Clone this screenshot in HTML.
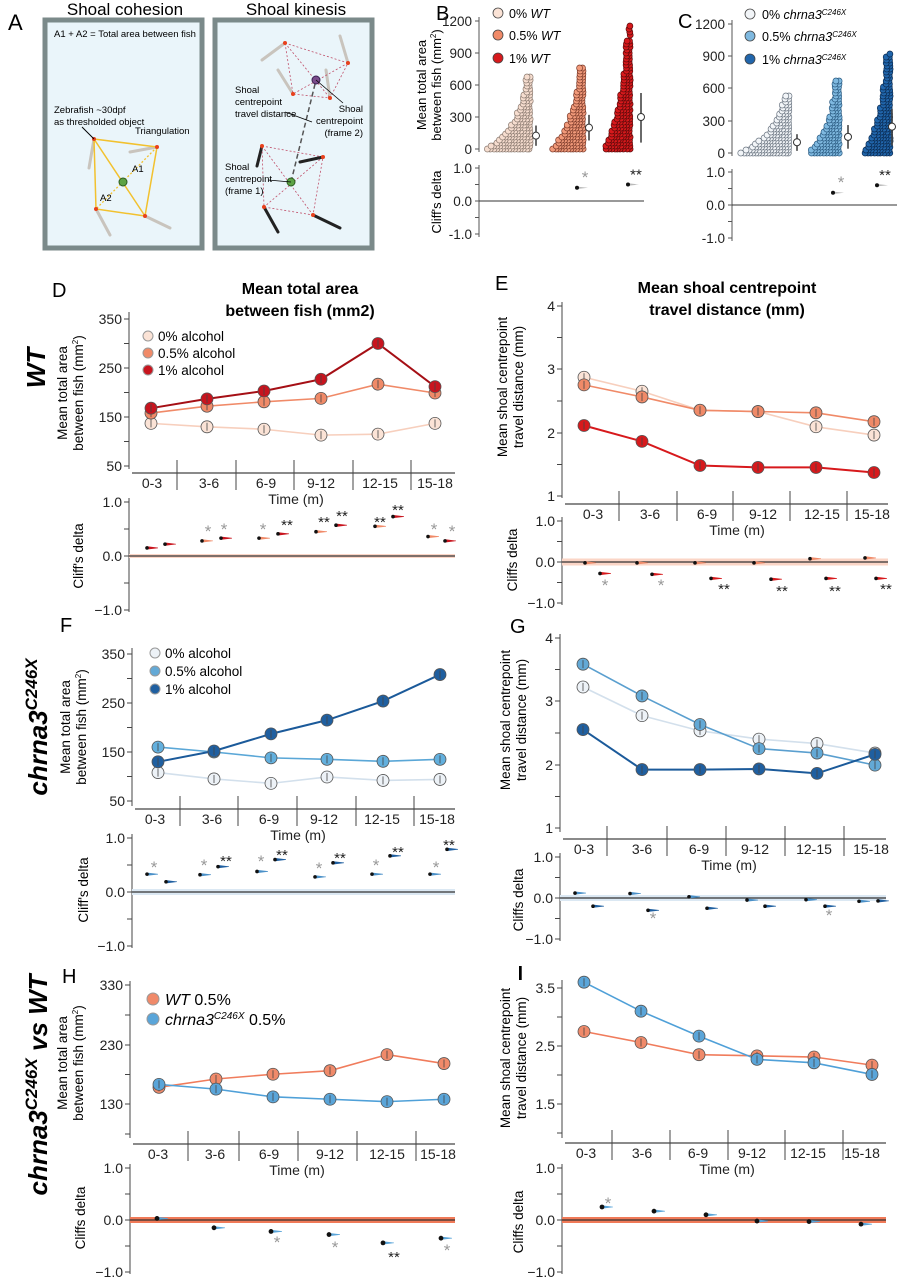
<!DOCTYPE html>
<html><head><meta charset="utf-8"><style>
html,body{margin:0;padding:0;background:#fff}
svg{display:block;font-family:"Liberation Sans",sans-serif}
</style></head><body>
<svg id="s" width="898" height="1280" viewBox="0 0 898 1280" xmlns="http://www.w3.org/2000/svg">
<rect width="898" height="1280" fill="#fff"/>
<!-- Panel A -->
<text x="8" y="30" font-size="22">A</text>
<text x="125" y="15" font-size="17" text-anchor="middle">Shoal cohesion</text>
<text x="296" y="15" font-size="17" text-anchor="middle">Shoal kinesis</text>
<rect x="45" y="20" width="157" height="228" fill="#eaf5fa" stroke="#7b8a8a" stroke-width="5"/>
<rect x="215" y="20" width="157" height="228" fill="#eaf5fa" stroke="#7b8a8a" stroke-width="5"/>
<text x="54" y="37" font-size="9.5">A1 + A2 = Total area between fish</text>
<g stroke="#c9c4bd" stroke-width="3" stroke-linecap="round">
<line x1="94" y1="139" x2="89" y2="168"/><line x1="157" y1="147" x2="130" y2="152"/><line x1="96" y1="209" x2="110" y2="235"/><line x1="145" y1="216" x2="170" y2="228"/>
<line x1="285" y1="43" x2="262" y2="60"/><line x1="348" y1="63" x2="340" y2="36"/><line x1="293" y1="94" x2="278" y2="70"/><line x1="330" y1="98" x2="326" y2="70"/>
</g>
<g stroke="#222" stroke-width="3" stroke-linecap="round">
<line x1="262" y1="146" x2="257" y2="166"/><line x1="323" y1="157" x2="300" y2="162"/><line x1="264" y1="207" x2="278" y2="232"/><line x1="313" y1="215" x2="340" y2="228"/>
</g>
<polygon points="94,139 157,147 145,216 96,209" fill="none" stroke="#f2c12e" stroke-width="1.5"/>
<line x1="94" y1="139" x2="145" y2="216" stroke="#f2c12e" stroke-width="1.5"/>
<line x1="157" y1="147" x2="96" y2="209" stroke="#f2c12e" stroke-width="1.3" stroke-dasharray="2,2"/>
<circle cx="123" cy="182" r="4" fill="#5da345" stroke="#2c5c20"/>
<g fill="#e8401c"><circle cx="94" cy="139" r="2"/><circle cx="157" cy="147" r="2"/><circle cx="96" cy="209" r="2"/><circle cx="145" cy="216" r="2"/></g>
<line x1="82" y1="127" x2="94" y2="139" stroke="#000"/>
<text x="54" y="113" font-size="9.5">Zebrafish ~30dpf</text>
<text x="54" y="125" font-size="9.5">as thresholded object</text>
<text x="135" y="134" font-size="9.5">Triangulation</text>
<text x="132" y="172" font-size="9.5">A1</text>
<text x="100" y="201" font-size="9.5">A2</text>
<g stroke="#c0506a" stroke-width="0.8" stroke-dasharray="2,2" fill="none">
<polygon points="285,43 348,63 330,98 293,94"/><line x1="285" y1="43" x2="330" y2="98"/><line x1="348" y1="63" x2="293" y2="94"/>
<polygon points="262,146 323,157 313,215 264,207"/><line x1="262" y1="146" x2="313" y2="215"/><line x1="323" y1="157" x2="264" y2="207"/>
</g>
<line x1="291" y1="182" x2="316" y2="80" stroke="#555" stroke-width="1.5" stroke-dasharray="5,3"/>
<circle cx="316" cy="80" r="4" fill="#7a4c8c" stroke="#3a2050"/>
<circle cx="291" cy="182" r="4" fill="#5da345" stroke="#2c5c20"/>
<g fill="#e8401c"><circle cx="285" cy="43" r="2"/><circle cx="348" cy="63" r="2"/><circle cx="293" cy="94" r="2"/><circle cx="330" cy="98" r="2"/><circle cx="262" cy="146" r="2"/><circle cx="323" cy="157" r="2"/><circle cx="264" cy="207" r="2"/><circle cx="313" cy="215" r="2"/></g>
<g stroke="#000" stroke-width="0.8"><line x1="285" y1="112" x2="312" y2="122"/><line x1="316" y1="80" x2="343" y2="103"/><line x1="268" y1="180" x2="291" y2="182"/></g>
<g font-size="9.5">
<text x="235" y="93">Shoal</text><text x="235" y="105">centrepoint</text><text x="235" y="117">travel distance</text>
<text x="363" y="112" text-anchor="end">Shoal</text><text x="363" y="124" text-anchor="end">centrepoint</text><text x="363" y="136" text-anchor="end">(frame 2)</text>
<text x="225" y="170">Shoal</text><text x="225" y="182">centrepoint</text><text x="225" y="194">(frame 1)</text>
</g>
<!-- B / C -->
<text x="436" y="20" font-size="20">B</text>
<text x="678" y="28" font-size="20">C</text>
<text transform="translate(426,85) rotate(-90)" font-size="13" text-anchor="middle">Mean total area</text>
<text transform="translate(441,85) rotate(-90)" font-size="13" text-anchor="middle">between fish (mm<tspan dy="-5" font-size="8">2</tspan><tspan dy="5">)</tspan></text>
<text transform="translate(441,202) rotate(-90)" font-size="13" text-anchor="middle">Cliff's delta</text>
<g font-size="12.5">
<text x="509" y="18">0% <tspan font-style="italic">WT</tspan></text>
<text x="509" y="40">0.5% <tspan font-style="italic">WT</tspan></text>
<text x="509" y="63">1% <tspan font-style="italic">WT</tspan></text>
<text x="762" y="19">0% <tspan font-style="italic">chrna3<tspan dy="-4" font-size="8">C246X</tspan></tspan></text>
<text x="762" y="41">0.5% <tspan font-style="italic">chrna3<tspan dy="-4" font-size="8">C246X</tspan></tspan></text>
<text x="762" y="64">1% <tspan font-style="italic">chrna3<tspan dy="-4" font-size="8">C246X</tspan></tspan></text>
</g>
<!-- Titles -->
<text x="300" y="294" font-size="16" font-weight="bold" text-anchor="middle">Mean total area</text>
<text x="300" y="316" font-size="16" font-weight="bold" text-anchor="middle">between fish (mm2)</text>
<text x="727" y="293" font-size="16" font-weight="bold" text-anchor="middle">Mean shoal centrepoint</text>
<text x="727" y="315" font-size="16" font-weight="bold" text-anchor="middle">travel distance (mm)</text>
<g font-size="20">
<text x="52" y="297">D</text><text x="495" y="290">E</text><text x="60" y="632">F</text><text x="510" y="633">G</text><text x="62" y="983">H</text><text x="518" y="980">I</text>
</g>
<g font-size="26" font-weight="bold" font-style="italic">
<text transform="translate(45,368) rotate(-90)" text-anchor="middle">WT</text>
<text transform="translate(47,727) rotate(-90)" text-anchor="middle">chrna3<tspan dy="-10" font-size="17">C246X</tspan></text>
<text transform="translate(47,1085) rotate(-90)" text-anchor="middle">chrna3<tspan dy="-10" font-size="17">C246X</tspan><tspan dy="10"> vs WT</tspan></text>
</g>
<!-- y labels -->
<g font-size="13.5" text-anchor="middle">
<text transform="translate(67,393) rotate(-90)">Mean total area</text>
<text transform="translate(83,393) rotate(-90)">between fish (mm<tspan dy="-5" font-size="8">2</tspan><tspan dy="5">)</tspan></text>
<text transform="translate(83,556) rotate(-90)">Cliff's delta</text>
<text transform="translate(507,387) rotate(-90)">Mean shoal centrepoint</text>
<text transform="translate(523,387) rotate(-90)">travel distance (mm)</text>
<text transform="translate(517,560) rotate(-90)">Cliffs delta</text>
<text transform="translate(70,727) rotate(-90)">Mean total area</text>
<text transform="translate(86,727) rotate(-90)">between fish (mm<tspan dy="-5" font-size="8">2</tspan><tspan dy="5">)</tspan></text>
<text transform="translate(88,890) rotate(-90)">Cliff's delta</text>
<text transform="translate(510,720) rotate(-90)">Mean shoal centrepoint</text>
<text transform="translate(526,720) rotate(-90)">travel distance (mm)</text>
<text transform="translate(523,900) rotate(-90)">Cliffs delta</text>
<text transform="translate(67,1063) rotate(-90)">Mean total area</text>
<text transform="translate(83,1063) rotate(-90)">between fish (mm<tspan dy="-5" font-size="8">2</tspan><tspan dy="5">)</tspan></text>
<text transform="translate(85,1218) rotate(-90)">Cliffs delta</text>
<text transform="translate(510,1058) rotate(-90)">Mean shoal centrepoint</text>
<text transform="translate(526,1058) rotate(-90)">travel distance (mm)</text>
<text transform="translate(523,1222) rotate(-90)">Cliffs delta</text>
</g>
<!-- legends D,F,H -->
<g font-size="13.5">
<circle cx="148" cy="336" r="5" fill="#fbe3d6" stroke="#999"/><text x="158" y="341">0% alcohol</text>
<circle cx="148" cy="353" r="5" fill="#f08a68" stroke="#999"/><text x="158" y="358">0.5% alcohol</text>
<circle cx="148" cy="370" r="5" fill="#c8141e" stroke="#999"/><text x="158" y="375">1% alcohol</text>
<circle cx="155" cy="653" r="5" fill="#edf2f7" stroke="#999"/><text x="165" y="658">0% alcohol</text>
<circle cx="155" cy="671" r="5" fill="#63a9d6" stroke="#999"/><text x="165" y="676">0.5% alcohol</text>
<circle cx="155" cy="689" r="5" fill="#1f5fa0" stroke="#999"/><text x="165" y="694">1% alcohol</text>
</g>
<g font-size="16">
<circle cx="153" cy="999" r="6" fill="#f08a6a" stroke="#999"/><text x="165" y="1005"><tspan font-style="italic">WT</tspan> 0.5%</text>
<circle cx="153" cy="1019" r="6" fill="#5aa5d9" stroke="#999"/><text x="165" y="1025"><tspan font-style="italic">chrna3<tspan dy="-6" font-size="10">C246X</tspan></tspan><tspan dy="6"> 0.5%</tspan></text>
</g>
<g id="gen"></g>
</svg>
<script>
var S=[];function A(s){S.push(s)}
function L(x1,y1,x2,y2,c,w,extra){A('<line x1="'+x1+'" y1="'+y1+'" x2="'+x2+'" y2="'+y2+'" stroke="'+(c||'#333')+'" stroke-width="'+(w||1)+'" '+(extra||'')+'/>')}
function T(x,y,s,sz,anchor,fill){A('<text x="'+x+'" y="'+y+'" font-size="'+(sz||14)+'" text-anchor="'+(anchor||'start')+'" fill="'+(fill||'#222')+'">'+s+'</text>')}
function star(x,y,s,gray){T(x,y,s,s.length>1?15:17,'middle',gray?'#999':'#222')}
var XL=['0-3','3-6','6-9','9-12','12-15','15-18'];
function panel(p){
 L(p.ax,p.yTop,p.ax,p.yBot,'#444',1);
 p.yt.forEach(function(t){L(p.ax-5,t[1],p.ax,t[1],'#444',1);if(t[0]!=='')T(p.ax-7,t[1]+5,t[0],14,'end');});
 L(p.ax+3,p.xl,p.xEnd,p.xl,'#444',1.2);
 p.seps.forEach(function(x){L(x,p.xl-13,x,p.xl+17,'#444',1)});
 p.lx.forEach(function(x,i){T(x,p.xl+15,XL[i],14,'middle')});
 T(p.timeX,p.xl+31,'Time (m)',14,'middle');
 p.series.forEach(function(s){
  var pts=s.v.map(function(v,i){return [p.xs[i],p.fy(v)]});
  A('<polyline points="'+pts.map(function(q){return q.join(',')}).join(' ')+'" fill="none" stroke="'+s.line+'" stroke-width="'+(s.lw||1.6)+'"/>');
  pts.forEach(function(q){A('<circle cx="'+q[0]+'" cy="'+q[1]+'" r="'+(p.r||6)+'" fill="'+s.fill+'" stroke="#555" stroke-width="0.8"/>');L(q[0],q[1]-4,q[0],q[1]+4,'#444',0.8)});
 });
 var d=p.d;L(p.ax,d[0]-4,p.ax,d[2]+2,'#444',1);
 [d[0],(d[0]+d[1])/2,d[1],(d[1]+d[2])/2,d[2]].forEach(function(y,i){L(p.ax-5,y,p.ax,y,'#444',1);if(i%2==0)T(p.ax-7,y+5,['1.0','0.0','\u22121.0'][i/2],14,'end')});
 A('<rect x="'+p.ax+'" y="'+(d[1]-p.bandH/2)+'" width="'+(p.xEnd-p.ax)+'" height="'+p.bandH+'" fill="'+p.band+'"/>');
 L(p.ax,d[1],p.xEnd,d[1],'#333',1.2);
 var sc=(d[1]-d[0]);
 p.dm.forEach(function(m){var x=m[0],y=d[1]-m[1]*sc;
  A('<polygon points="'+(x)+','+(y-1.6)+' '+(x+11)+','+(y-0.3)+' '+(x+11)+','+(y+0.3)+' '+x+','+(y+1.6)+'" fill="'+m[2]+'"/>');
  A('<circle cx="'+x+'" cy="'+y+'" r="'+(m[3]||1.8)+'" fill="#111"/>');});
 (p.stars||[]).forEach(function(s){star(s[0],s[1],s[2],s[3])});
}
var fD=function(v){return 319+(350-v)*0.49};
panel({ax:129,yTop:312,yBot:469,yt:[['350',319],['',343.5],['250',368],['',392.5],['150',417],['',441.5],['50',466]],xl:473,xEnd:455,seps:[177,236,294,353,411],lx:[152,209,266,321,380,435],timeX:296,xs:[151,207,264,321,378,435],fy:fD,
 series:[{v:[137,130,125,113,115,137],fill:'#fbe3d6',line:'#f7cfbd'},{v:[158,172,181,188,217,199],fill:'#f08a68',line:'#f08a68'},{v:[168,187,203,227,300,212],fill:'#c8141e',line:'#a50f15',lw:2}],
 d:[502,556,610],band:'#fbd5c6',bandH:4,
 dm:[[147,.15,'#c8141e'],[165,.22,'#c8141e'],[202,.28,'#f08a68'],[221,.33,'#c8141e'],[259,.33,'#f08a68'],[278,.41,'#c8141e'],[316,.45,'#f08a68'],[336,.57,'#c8141e'],[375,.55,'#f08a68'],[393,.73,'#c8141e'],[428,.36,'#f08a68'],[445,.28,'#c8141e']],
 stars:[[208,537,'*',1],[224,535,'*',1],[263,535,'*',1],[287,530,'**'],[324,527,'**'],[342,521,'**'],[380,527,'**'],[398,515,'**'],[434,535,'*',1],[452,537,'*',1]]});
var fE=function(v){return 496-(v-1)*63.5};
panel({ax:562,yTop:302,yBot:498,yt:[['4',306],['',337.5],['3',369],['',401],['2',433],['',464.5],['1',496]],xl:504,xEnd:888,seps:[619,677,733,790,847],lx:[593,650,707,763,822,872],timeX:737,xs:[584,642,700,758,816,874],fy:fE,
 series:[{v:[2.87,2.65,2.35,2.33,2.09,1.96],fill:'#fbe3d6',line:'#f7cfbd'},{v:[2.75,2.56,2.35,2.33,2.31,2.17],fill:'#f08a68',line:'#f08a68'},{v:[2.11,1.86,1.48,1.45,1.45,1.37],fill:'#d7191c',line:'#d7191c',lw:2}],
 d:[521,562,603],band:'#fbd5c6',bandH:7,
 dm:[[585,-.02,'#f08a68'],[600,-.28,'#d7191c'],[637,-.02,'#f08a68'],[652,-.3,'#d7191c'],[695,-.02,'#f08a68'],[711,-.4,'#d7191c'],[754,-.02,'#f08a68'],[771,-.42,'#d7191c'],[810,.08,'#f08a68'],[826,-.4,'#d7191c'],[865,.1,'#f08a68'],[876,-.4,'#d7191c']],
 stars:[[605,591,'*',1],[661,591,'*',1],[724,594,'**'],[782,596,'**'],[835,596,'**'],[886,594,'**']]});
var fF=function(v){return 654+(350-v)*0.49};
panel({ax:132,yTop:648,yBot:806,yt:[['350',654],['',678.5],['250',703],['',727.5],['150',752],['',776.5],['50',801]],xl:809,xEnd:455,seps:[180,238,297,356,414],lx:[155,212,269,324,382,437],timeX:298,xs:[158,214,271,327,383,440],fy:fF,
 series:[{v:[108,95,86,99,92,94],fill:'#edf2f7',line:'#d3e0ec'},{v:[160,150,138,135,131,135],fill:'#63b0de',line:'#5aa7d7'},{v:[130,152,187,215,254,308],fill:'#1f5fa0',line:'#1b5a9a',lw:2}],
 d:[838,892,946],band:'#dbe8f3',bandH:6,
 dm:[[147,.33,'#4a90c8'],[166,.19,'#1f5fa0'],[200,.32,'#4a90c8'],[218,.47,'#1f5fa0'],[257,.38,'#4a90c8'],[275,.6,'#1f5fa0'],[315,.28,'#4a90c8'],[333,.54,'#1f5fa0'],[372,.33,'#4a90c8'],[390,.67,'#1f5fa0'],[430,.33,'#4a90c8'],[447,.79,'#1f5fa0']],
 stars:[[154,873,'*',1],[204,871,'*',1],[226,866,'**'],[261,867,'*',1],[282,860,'**'],[319,874,'*',1],[340,863,'**'],[376,871,'*',1],[398,857,'**'],[436,873,'*',1],[449,850,'**']]});
var fG=function(v){return 828-(v-1)*63.5};
panel({ax:560,yTop:634,yBot:832,yt:[['4',638],['',669.5],['3',701],['',733],['2',765],['',796.5],['1',828]],xl:839,xEnd:886,seps:[607,667,726,785,844],lx:[584,642,699,755,814,871],timeX:729,xs:[583,642,700,759,817,875],fy:fG,
 series:[{v:[3.22,2.77,2.53,2.4,2.33,2.18],fill:'#edf2f7',line:'#d3e0ec'},{v:[3.58,3.08,2.63,2.25,2.18,1.99],fill:'#63a9d6',line:'#5a9fcf'},{v:[2.55,1.92,1.92,1.93,1.86,2.16],fill:'#1f5fa0',line:'#1b5a9a',lw:2}],
 d:[857,898,939],band:'#dbe8f3',bandH:6,
 dm:[[575,.12,'#4a90c8'],[593,-.2,'#1f5fa0'],[630,.11,'#4a90c8'],[648,-.3,'#1f5fa0'],[689,.03,'#4a90c8'],[707,-.25,'#1f5fa0'],[747,-.05,'#4a90c8'],[765,-.2,'#1f5fa0'],[806,-.04,'#4a90c8'],[825,-.2,'#1f5fa0'],[859,-.08,'#4a90c8'],[878,-.07,'#1f5fa0']],
 stars:[[653,924,'*',1],[829,921,'*',1]]});
var fH=function(v){return 985+(330-v)*0.595};
panel({ax:130,yTop:981,yBot:1138,yt:[['330',985],['',1015],['230',1045],['',1074.5],['130',1104],['',1134]],xl:1144,xEnd:455,seps:[188,239,298,357,416],lx:[158,215,269,330,387,438],timeX:297,xs:[159,216,273,330,387,444],fy:fH,
 series:[{v:[158,172,180,186,213,198],fill:'#f08a6a',line:'#f07c5c'},{v:[163,155,142,138,134,138],fill:'#5aa5d9',line:'#4fa0d8'}],
 d:[1168,1220,1272],band:'#f07a58',bandH:6,
 dm:[[157,.03,'#5aa5d9',2.4],[214,-.15,'#5aa5d9',2.4],[271,-.22,'#5aa5d9',2.4],[329,-.28,'#5aa5d9',2.4],[383,-.44,'#5aa5d9',2.4],[441,-.35,'#5aa5d9',2.4]],
 stars:[[277,1248,'*',1],[335,1253,'*',1],[394,1262,'**'],[447,1256,'*',1]]});
var fI=function(v){return 1046-(v-2.5)*58};
panel({ax:562,yTop:980,yBot:1138,yt:[['3.5',988],['',1017],['2.5',1046],['',1075],['1.5',1104],['',1133]],xl:1143,xEnd:886,seps:[612,670,728,785,843],lx:[586,642,698,752,808,862],timeX:727,xs:[584,641,699,757,814,872],fy:fI,
 series:[{v:[2.75,2.56,2.35,2.33,2.31,2.17],fill:'#f08a6a',line:'#f07c5c'},{v:[3.6,3.1,2.67,2.27,2.21,2.01],fill:'#5aa5d9',line:'#4fa0d8'}],
 d:[1168,1220,1272],band:'#f07a58',bandH:6,
 dm:[[602,.25,'#5aa5d9',2.4],[654,.17,'#5aa5d9',2.4],[706,.1,'#5aa5d9',2.4],[757,-.02,'#5aa5d9',2.4],[809,-.03,'#5aa5d9',2.4],[861,-.08,'#5aa5d9',2.4]],
 stars:[[608,1209,'*',1]]});
A('<line x1="520" y1="966" x2="520" y2="980" stroke="#000" stroke-width="2"/>');
var seed=7;function R(){seed=(seed*16807)%2147483647;return seed/2147483647}
function swarm(right,W,base,k,maxh,fill,stroke){
 for(var h=0;h<maxh;h+=3){var w=W*Math.exp(-h/k);if(w<3){if(R()<0.45)w=3;else continue;}
  for(var x=right;x>right-w;x-=3){A('<circle cx="'+(x+R()*1.2).toFixed(1)+'" cy="'+(base-h).toFixed(1)+'" r="3" fill="'+fill+'" stroke="'+stroke+'" stroke-width="0.7"/>')}}
}
function bc(ax,ty,d,sw,means,leg,dm){
 L(ax,ty[0][1]-4,ax,ty[4][1]+3,'#555',1);
 ty.forEach(function(t){L(ax-4,t[1],ax,t[1],'#555',1);T(ax-7,t[1]+5,t[0],13.5,'end')});
 var sc=(ty[4][1]-ty[0][1])/1200;
 sw.forEach(function(s){swarm(s[0],s[1],ty[4][1],s[2]*sc,s[3]*sc,s[4],s[5])});
 means.forEach(function(m){L(m[0],ty[4][1]-m[2]*sc,m[0],ty[4][1]-m[3]*sc,'#444',1.6);A('<circle cx="'+m[0]+'" cy="'+(ty[4][1]-m[1]*sc)+'" r="3.5" fill="#fff" stroke="#333"/>')});
 leg.forEach(function(l){A('<circle cx="'+l[0]+'" cy="'+l[1]+'" r="5" fill="'+l[2]+'" stroke="#444" stroke-width="0.8"/>')});
 L(ax,d[0]-3,ax,d[2]+3,'#555',1);
 [d[0],(d[0]+d[1])/2,d[1],(d[1]+d[2])/2,d[2]].forEach(function(y,i){L(ax-4,y,ax,y,'#555',1);if(i%2==0)T(ax-7,y+5,['1.0','0.0','-1.0'][i/2],13.5,'end')});
 L(ax,d[1],ax+165,d[1],'#333',1);
 dm.forEach(function(m){var y=d[1]-m[1]*(d[1]-d[0]);A('<polygon points="'+m[0]+','+(y-1.2)+' '+(m[0]+11)+','+y+' '+m[0]+','+(y+1.2)+'" fill="#bbb"/>');A('<circle cx="'+m[0]+'" cy="'+y+'" r="2" fill="#111"/>');star(m[0]+8,y-5,m[2],m[3])});
}
bc(479,[['1200',21],['900',53],['600',85],['300',117],['0',149]],[168,201,234],
 [[529,44,260,720,'#f6ddcf','#8a7a70'],[582,32,330,760,'#f29a7a','#7a3a2a'],[629,26,480,1200,'#d7191c','#5a0a0a']],
 [[536,125,30,220],[589,200,80,320],[641,300,60,525]],
 [[498,13,'#fbe3d6'],[498,35,'#f08a68'],[498,58,'#d7191c']],
 [[577,.4,'*',1],[628,.5,'**']]);
bc(732,[['1200',24],['900',56],['600',88],['300',121],['0',153]],[172,205,238],
 [[788,50,220,540,'#f2f5f8','#6a7480'],[838,30,300,710,'#7fb9e0','#2a5a80'],[889,26,420,1030,'#2166ac','#0a2a50']],
 [[797,100,20,175],[848,150,40,260],[892,245,70,410]],
 [[750,14,'#f2f5f8'],[750,36,'#7fb9e0'],[750,59,'#2166ac']],
 [[833,.37,'*',1],[877,.6,'**']]);
document.getElementById('gen').innerHTML=S.join('');
</script>
</body></html>
